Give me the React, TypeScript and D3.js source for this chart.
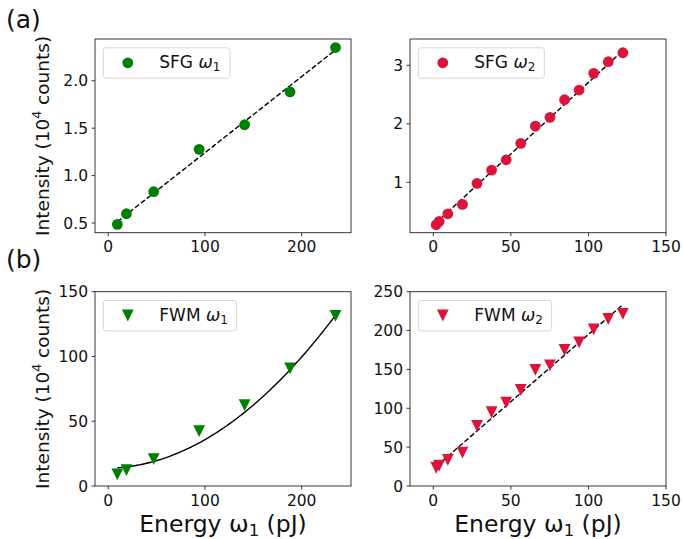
import React from "react";
import * as d3 from "d3";

// ---- data ----
const energyW1 = [9.4, 18.8, 47, 94, 141, 188, 235];
const sfgW1 = [0.486, 0.598, 0.83, 1.277, 1.536, 1.882, 2.35];
const fwmW1 = [9.0, 12.3, 20.8, 42.4, 62.5, 90.8, 131.4];

const energyW2 = [1.88, 3.76, 9.4, 18.8, 28.2, 37.6, 47, 56.4, 65.8, 75.2, 84.6, 94, 103.4, 112.8, 122.2];
const sfgW2 = [0.275, 0.333, 0.463, 0.624, 0.983, 1.21, 1.386, 1.667, 1.962, 2.111, 2.412, 2.578, 2.863, 3.062, 3.215];
const fwmW2 = [23.5, 26.1, 33.5, 42.9, 77.2, 94.9, 107.2, 123.5, 149.3, 155.3, 175, 184.9, 201.6, 214.9, 221.4];

// fit coefficients (polynomial: c0 + c1 x + c2 x^2)
const fitSfgW1 = [0.4385, 0.008027, 0];
const fitSfgW2 = [0.264, 0.02444, 0];
const fitFwmW1 = [13.8, 0.011, 0.00209];
const fitFwmW2 = [22, 1.73, 0];

const ticksXW1 = [0, 100, 200];
const ticksXW2 = [0, 50, 100, 150];
const ticksSfgW1 = [0.5, 1.0, 1.5, 2.0];
const ticksSfgW2 = [1, 2, 3];
const ticksFwmW1 = [0, 50, 100, 150];
const ticksFwmW2 = [0, 50, 100, 150, 200, 250];

const GREEN = "#008000";
const RED = "#DC143C";
const FONT = "DejaVu Sans";

type PanelProps = {
  x0: number; x1: number; y0: number; y1: number;
  xDomain: [number, number]; yDomain: [number, number];
  xTicks: number[]; yTicks: number[]; yFmt: (v: number) => string;
  xs: number[]; ys: number[]; fit: number[]; dashed: boolean;
  color: string; marker: "circle" | "tri";
  label: string; sub: string; legendW: number;
};

function Marker({ cx, cy, kind, color }: { cx: number; cy: number; kind: string; color: string }) {
  if (kind === "circle") return <circle cx={cx} cy={cy} r={5.4} fill={color} />;
  const s = 5.9;
  return <path d={`M${cx - s},${cy - s}L${cx + s},${cy - s}L${cx},${cy + s}Z`} fill={color} />;
}

function Panel(p: PanelProps) {
  const xs = d3.scaleLinear().domain(p.xDomain).range([p.x0, p.x1]);
  const ys = d3.scaleLinear().domain(p.yDomain).range([p.y1, p.y0]);
  const lo = d3.min(p.xs) as number;
  const hi = d3.max(p.xs) as number;
  const fitPts = d3.range(0, 101).map((i) => {
    const x = lo + ((hi - lo) * i) / 100;
    return [x, p.fit[0] + p.fit[1] * x + p.fit[2] * x * x] as [number, number];
  });
  const line = d3.line<[number, number]>().x((d) => xs(d[0])).y((d) => ys(d[1]));
  const lx = p.x0 + 8.3;
  const ly = p.y0 + 8.8;
  return (
    <g>
      <defs>
        <clipPath id={`clip${p.x0}-${p.y0}`}>
          <rect x={p.x0} y={p.y0} width={p.x1 - p.x0} height={p.y1 - p.y0} />
        </clipPath>
      </defs>
      <g clipPath={`url(#clip${p.x0}-${p.y0})`}>
        <path d={line(fitPts) || ""} fill="none" stroke="#000" strokeWidth={1.4}
          strokeDasharray={p.dashed ? "5.2,2.3" : undefined} />
        {p.xs.map((x, i) => (
          <Marker key={i} cx={xs(x)} cy={ys(p.ys[i])} kind={p.marker} color={p.color} />
        ))}
      </g>
      <rect x={p.x0} y={p.y0} width={p.x1 - p.x0} height={p.y1 - p.y0} fill="none" stroke="#222" strokeWidth={0.9} />
      {p.xTicks.map((t) => (
        <g key={"x" + t}>
          <line x1={xs(t)} x2={xs(t)} y1={p.y1} y2={p.y1 + 3.5} stroke="#222" strokeWidth={0.9} />
          <text x={xs(t)} y={p.y1 + 19.5} textAnchor="middle" fontSize={15.5} fontFamily={FONT} fill="#111">{t}</text>
        </g>
      ))}
      {p.yTicks.map((t) => (
        <g key={"y" + t}>
          <line x1={p.x0 - 3.5} x2={p.x0} y1={ys(t)} y2={ys(t)} stroke="#222" strokeWidth={0.9} />
          <text x={p.x0 - 7} y={ys(t)} dy="0.36em" textAnchor="end" fontSize={15.5} fontFamily={FONT} fill="#111">{p.yFmt(t)}</text>
        </g>
      ))}
      <rect x={lx} y={ly} width={p.legendW} height={30.4} rx={2.5} fill="#fff" fillOpacity={0.8} stroke="#d0d0d0" strokeWidth={0.9} />
      <Marker cx={lx + 24.5} cy={ly + 15} kind={p.marker} color={p.color} />
      <text x={lx + 56} y={ly + 20.6} fontSize={17} fontFamily={FONT} fill="#111">
        {p.label + " "}
        <tspan fontStyle="italic">ω</tspan>
        <tspan fontSize={12} dy={3}>{p.sub}</tspan>
      </text>
    </g>
  );
}

function YLabel({ cy }: { cy: number }) {
  return (
    <text transform={`translate(48.5,${cy}) rotate(-90)`} textAnchor="middle" fontSize={18.5} fontFamily={FONT} fill="#111">
      Intensity (10<tspan fontSize={12.5} dy={-7.5}>4</tspan><tspan dy={7.5}> counts)</tspan>
    </text>
  );
}

function XLabel({ cx }: { cx: number }) {
  return (
    <text x={cx} y={531.5} textAnchor="middle" fontSize={23.5} fontFamily={FONT} fill="#111">
      Energy ω<tspan fontSize={16.5} dy={4}>1</tspan><tspan dy={-4}> (pJ)</tspan>
    </text>
  );
}

export default function App() {
  const L: [number, number] = [95, 351];
  const R: [number, number] = [410, 666];
  const T: [number, number] = [39, 232.7];
  const B: [number, number] = [291.7, 486];
  const f1 = (v: number) => d3.format(".1f")(v);
  const f0 = (v: number) => String(v);
  return (
    <svg width={683} height={539} style={{ position: "absolute", left: 0, top: 0, background: "#fff" }}>
      <rect width={683} height={539} fill="#fff" />
      <text x={6} y={28} fontSize={25} fontFamily={FONT} fill="#111">(a)</text>
      <text x={6} y={268} fontSize={25} fontFamily={FONT} fill="#111">(b)</text>
      <Panel x0={L[0]} x1={L[1]} y0={T[0]} y1={T[1]} xDomain={[-13.7, 251]} yDomain={[0.398, 2.44]}
        xTicks={ticksXW1} yTicks={ticksSfgW1} yFmt={f1} xs={energyW1} ys={sfgW1} fit={fitSfgW1}
        dashed={true} color={GREEN} marker="circle" label="SFG" sub="1" legendW={126.7} />
      <Panel x0={R[0]} x1={R[1]} y0={T[0]} y1={T[1]} xDomain={[-15, 150]} yDomain={[0.14, 3.45]}
        xTicks={ticksXW2} yTicks={ticksSfgW2} yFmt={f0} xs={energyW2} ys={sfgW2} fit={fitSfgW2}
        dashed={true} color={RED} marker="circle" label="SFG" sub="2" legendW={126} />
      <Panel x0={L[0]} x1={L[1]} y0={B[0]} y1={B[1]} xDomain={[-13.7, 251]} yDomain={[0, 150]}
        xTicks={ticksXW1} yTicks={ticksFwmW1} yFmt={f0} xs={energyW1} ys={fwmW1} fit={fitFwmW1}
        dashed={false} color={GREEN} marker="tri" label="FWM" sub="1" legendW={133.4} />
      <Panel x0={R[0]} x1={R[1]} y0={B[0]} y1={B[1]} xDomain={[-15, 150]} yDomain={[0, 250]}
        xTicks={ticksXW2} yTicks={ticksFwmW2} yFmt={f0} xs={energyW2} ys={fwmW2} fit={fitFwmW2}
        dashed={true} color={RED} marker="tri" label="FWM" sub="2" legendW={133.3} />
      <YLabel cy={(T[0] + T[1]) / 2} />
      <YLabel cy={(B[0] + B[1]) / 2} />
      <XLabel cx={(L[0] + L[1]) / 2} />
      <XLabel cx={(R[0] + R[1]) / 2} />
    </svg>
  );
}
